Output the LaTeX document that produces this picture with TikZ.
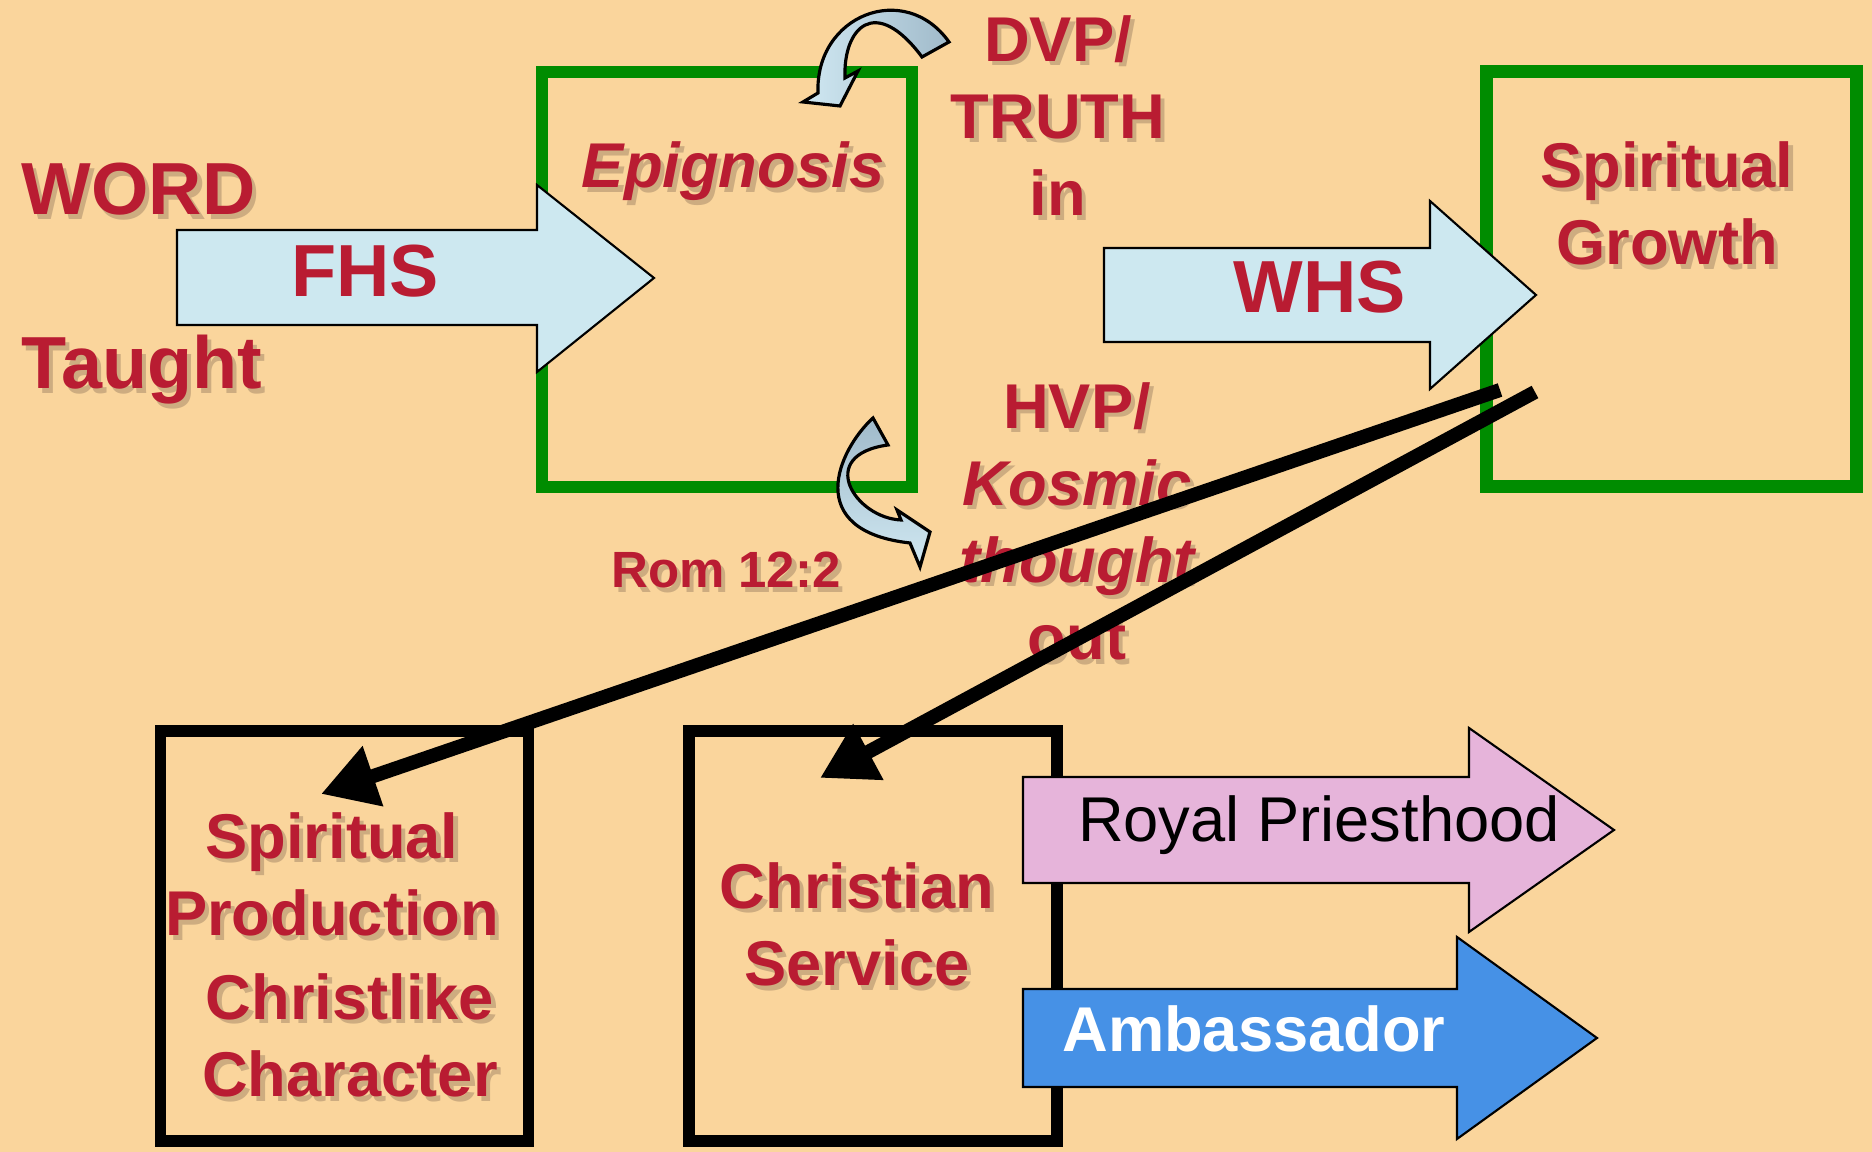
\documentclass[tikz,border=0pt]{standalone}
\usepackage{fontspec}
\setmainfont{Liberation Sans}
\usetikzlibrary{arrows.meta}

\definecolor{peach}{RGB}{250,213,156}
\definecolor{wordred}{RGB}{185,28,50}
\definecolor{boxgreen}{RGB}{0,140,0}
\definecolor{hsblue}{RGB}{205,232,240}
\definecolor{curllight}{RGB}{208,232,242}
\definecolor{curldark}{RGB}{160,186,202}
\definecolor{priestpink}{RGB}{230,180,218}
\definecolor{ambblue}{RGB}{70,145,230}
\definecolor{shadowbrown}{RGB}{205,172,128}

\newcommand{\txtshadow}[1]{\makebox[0pt][l]{\hspace{1.2pt}\raisebox{-1.2pt}{\color{shadowbrown}#1}}#1}

\tikzset{
	redtext/.style = {text = wordred, font = {\fontsize{18}{22}\selectfont\bfseries}, align = center, inner sep = 0pt},
	bigtext/.style = {redtext, font = {\fontsize{21}{25}\selectfont\bfseries}},
	greenbox/.style = {draw = boxgreen, line width = 3.6pt, minimum width = 3.7cm, minimum height = 4.15cm, inner sep = 0pt},
	blackbox/.style = {draw = black, line width = 3.4pt, minimum width = 3.68cm, minimum height = 4.1cm, inner sep = 0pt},
	blockarrow/.style = {draw = black, line width = 0.6pt},
	curlarrow/.style = {draw = black, line width = 0.9pt},
	lead/.style = {line width = 4pt, -{Triangle[length = 0.55cm, width = 0.6cm]}}
}

\begin{document}
\begin{tikzpicture}
				\useasboundingbox (0,0) rectangle (18.72,11.52);
				\fill[peach] (0,0) rectangle (18.72,11.52);
				
				% boxes
				\node[greenbox] at (7.27,8.725) (epignosis_box) {};
				\node[greenbox] at (16.715,8.73) (growth_box) {};
				\node[blackbox] at (3.445,2.16) (production_box) {};
				\node[blackbox] at (8.73,2.16) (service_box) {};
				
				% block arrows
				\draw[blockarrow, fill = hsblue] (1.77,8.27) -- (5.37,8.27) -- (5.37,7.80) -- (6.54,8.74) -- (5.37,9.67) -- (5.37,9.22) -- (1.77,9.22) -- cycle;
				\draw[blockarrow, fill = hsblue] (11.04,8.10) -- (14.30,8.10) -- (14.30,7.63) -- (15.36,8.57) -- (14.30,9.51) -- (14.30,9.04) -- (11.04,9.04) -- cycle;
				\draw[blockarrow, fill = priestpink] (10.23,2.69) -- (14.69,2.69) -- (14.69,2.20) -- (16.14,3.22) -- (14.69,4.24) -- (14.69,3.75) -- (10.23,3.75) -- cycle;
				\draw[blockarrow, fill = ambblue] (10.23,0.65) -- (14.57,0.65) -- (14.57,0.13) -- (15.97,1.14) -- (14.57,2.15) -- (14.57,1.63) -- (10.23,1.63) -- cycle;
				
				% curved arrows
				\draw[curlarrow, left color = curllight, right color = curldark] (9.22,10.95) -- (9.49,11.10) .. controls (9.05,11.72) and (8.15,11.37) .. (8.18,10.59) -- (8.03,10.50) -- (8.40,10.46) -- (8.58,10.81) -- (8.45,10.74) .. controls (8.43,11.24) and (8.75,11.58) .. (9.22,10.95) -- cycle;
				\draw[curlarrow, top color = curldark, bottom color = curllight] (8.73,7.34) .. controls (8.38,7.02) and (8.02,6.21) .. (9.10,6.09) -- (9.20,5.85) -- (9.30,6.20) -- (8.97,6.42) -- (9.01,6.32) .. controls (8.55,6.34) and (8.15,6.97) .. (8.88,7.07) -- cycle;
				
				% texts
				\node[bigtext, anchor = base west] at (0.21,9.37) (word) {\txtshadow{WORD}};
				\node[bigtext, anchor = base west] at (0.21,7.63) (taught) {\txtshadow{Taught}};
				\node[bigtext, anchor = base] at (3.65,8.55) (fhs) {FHS};
				\node[bigtext, anchor = base] at (13.20,8.39) (whs) {WHS};
				\node[redtext, anchor = base] at (7.33,9.64) (epignosis) {\itshape\txtshadow{Epignosis}};
				\node[redtext, anchor = base] at (10.58,9.36) (dvp) {\txtshadow{DVP/}\\\txtshadow{TRUTH}\\\txtshadow{in}};
				\node[redtext, anchor = base] at (10.77,4.92) (hvp) {\txtshadow{HVP/}\\\itshape\txtshadow{Kosmic}\\\itshape\txtshadow{thought}\\\txtshadow{out}};
				\node[redtext, anchor = base, font = {\fontsize{14.5}{18}\selectfont\bfseries}] at (7.26,5.64) (rom) {\txtshadow{Rom 12:2}};
				\node[redtext, anchor = base] at (16.67,8.87) (growth) {\txtshadow{Spiritual}\\\txtshadow{Growth}};
				\node[redtext, anchor = base] at (3.32,2.16) (production) {\txtshadow{Spiritual}\\\txtshadow{Production}};
				\node[redtext, anchor = base] at (3.50,0.55) (character) {\txtshadow{Christlike}\\\txtshadow{Character}};
				\node[redtext, anchor = base] at (8.57,1.66) (service) {\txtshadow{Christian}\\\txtshadow{Service}};
				\node[anchor = base, inner sep = 0pt, font = {\fontsize{18}{22}\selectfont}] at (13.19,3.10) (royal) {Royal Priesthood};
				\node[anchor = base, inner sep = 0pt, text = white, font = {\fontsize{18}{22}\selectfont\bfseries}] at (12.54,1.00) (ambassador) {Ambassador};
				
				% leads out of growth
				\coordinate (growth_out1) at (15.00,7.62);
				\coordinate (growth_out2) at (15.35,7.60);
				\coordinate (production_in) at (3.21,3.58);
				\coordinate (service_in) at (8.20,3.74);
				\draw[lead] (growth_out1) -- (production_in);
				\draw[lead] (growth_out2) -- (service_in);
			\end{tikzpicture}
\end{document}
